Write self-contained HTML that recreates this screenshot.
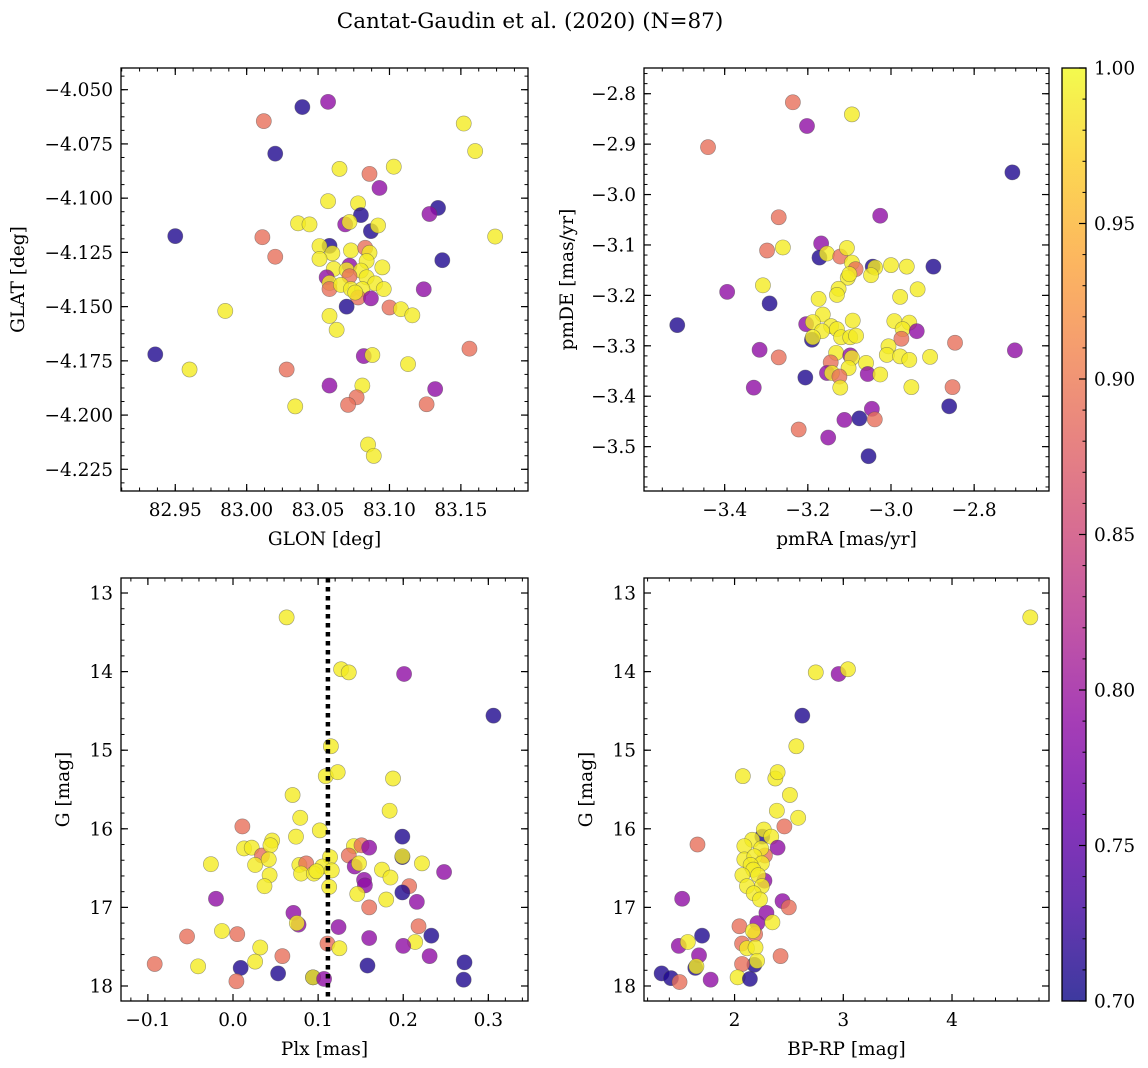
<!DOCTYPE html>
<html><head><meta charset="utf-8">
<style>
html,body{margin:0;padding:0;background:#fff;}
svg{display:block;font-family:"DejaVu Serif","Liberation Serif",serif;}
</style></head>
<body>
<svg id="fig" width="1148" height="1068" viewBox="0 0 1148 1068" xmlns="http://www.w3.org/2000/svg">
<defs>
<linearGradient id="plasmaGrad" x1="0" y1="1" x2="0" y2="0">
<stop offset="0" stop-color="#0d0887"/><stop offset="0.1" stop-color="#41049d"/><stop offset="0.2" stop-color="#6a00a8"/>
<stop offset="0.3" stop-color="#8f0da4"/><stop offset="0.4" stop-color="#b12a90"/><stop offset="0.5" stop-color="#cc4778"/>
<stop offset="0.6" stop-color="#e16462"/><stop offset="0.7" stop-color="#f2844b"/><stop offset="0.8" stop-color="#fca636"/>
<stop offset="0.9" stop-color="#fcce25"/><stop offset="1" stop-color="#f0f921"/>
</linearGradient>
</defs>
<text x="530" y="28" text-anchor="middle" font-size="21.5">Cantat-Gaudin et al. (2020) (N=87)</text>
</svg>
<script>
// ---- Panel 1: GLON / GLAT ----
const p1Glon=[83.039,83.057,83.012,83.020,82.950,83.011,83.020,82.936,82.960,82.985,83.028,83.034,83.152,83.160,83.174,83.137,83.134,83.128,83.124,83.156,83.132,83.126,83.065,83.086,83.103,83.093,83.057,83.078,83.080,83.069,83.072,83.036,83.044,83.087,83.092,83.058,83.051,83.060,83.051,83.073,83.083,83.086,83.084,83.095,83.072,83.061,83.070,83.080,83.056,83.072,83.058,83.058,83.066,83.073,83.084,83.090,83.096,83.081,83.078,83.076,83.087,83.070,83.100,83.108,83.116,83.058,83.063,83.082,83.088,83.113,83.058,83.081,83.077,83.071,83.085,83.089];
const p1Glat=[-4.058,-4.0556,-4.0645,-4.0795,-4.1175,-4.118,-4.127,-4.172,-4.179,-4.152,-4.179,-4.196,-4.0656,-4.0783,-4.1177,-4.1286,-4.1045,-4.1073,-4.142,-4.1694,-4.188,-4.195,-4.0865,-4.0888,-4.0855,-4.0953,-4.1014,-4.1024,-4.1078,-4.1121,-4.111,-4.1116,-4.1121,-4.1152,-4.1126,-4.122,-4.1221,-4.1254,-4.128,-4.1241,-4.1229,-4.1252,-4.129,-4.1319,-4.1311,-4.1326,-4.1331,-4.1334,-4.1365,-4.136,-4.1391,-4.1419,-4.14,-4.1419,-4.1365,-4.1393,-4.1419,-4.1419,-4.1458,-4.1435,-4.1462,-4.15,-4.1504,-4.1512,-4.154,-4.1543,-4.1607,-4.1728,-4.1723,-4.1765,-4.1864,-4.1864,-4.1918,-4.1953,-4.2136,-4.2188];
const p1Prob=[0.71,0.79,0.89,0.71,0.71,0.89,0.89,0.71,0.99,0.99, 0.89,0.99,0.99,0.99,0.99,0.71,0.71,0.79,0.79,0.89, 0.79,0.89,0.99,0.89,0.99,0.79,0.99,0.99,0.71,0.79, 0.99,0.99,0.99,0.71,0.99,0.71,0.99,0.99,0.99,0.99, 0.89,0.99,0.99,0.99,0.79,0.99,0.99,0.99,0.79,0.89, 0.99,0.89,0.99,0.99,0.99,0.99,0.99,0.99,0.89,0.99, 0.79,0.71,0.89,0.99,0.99,0.99,0.99,0.79,0.99,0.99, 0.79,0.99,0.89,0.89,0.99,0.99];
// ---- Panel 2: pmRA / pmDE ----
const p2Pmra=[-3.236,-3.202,-3.094,-3.440,-2.708,-3.514,-3.270,-3.026,-3.260,-3.298, -3.168,-3.172,-3.154,-3.122,-3.106,-3.094,-3.085,-3.044,-3.038,-3.048, -3.000,-2.962,-2.898,-3.104,-3.100,-3.126,-3.130,-2.936,-2.978,-3.308, -3.394,-3.292,-3.174,-3.164,-3.092,-2.992,-2.956,-2.972,-2.938,-3.204, -3.188,-3.144,-3.166,-3.130,-3.120,-3.098,-3.084,-3.190,-3.188,-2.975, -2.846,-2.702,-3.006,-3.010,-2.978,-2.956,-2.906,-3.316,-3.270,-3.132, -3.098,-3.094,-3.145,-3.102,-3.060,-3.154,-3.142,-3.124,-3.056,-3.026, -3.122,-3.206,-3.330,-2.951,-2.852,-2.860,-3.046,-3.076,-3.039,-3.112, -3.222,-3.151,-3.054];
const p2Pmde=[-2.817,-2.864,-2.841,-2.906,-2.956,-3.259,-3.045,-3.042,-3.105,-3.111, -3.097,-3.125,-3.117,-3.123,-3.106,-3.135,-3.148,-3.143,-3.145,-3.160, -3.140,-3.143,-3.143,-3.165,-3.158,-3.187,-3.199,-3.188,-3.203,-3.180, -3.193,-3.216,-3.207,-3.238,-3.250,-3.251,-3.254,-3.267,-3.271,-3.257, -3.253,-3.261,-3.271,-3.267,-3.283,-3.283,-3.280,-3.288,-3.283,-3.286, -3.294,-3.309,-3.301,-3.318,-3.321,-3.328,-3.322,-3.308,-3.323,-3.314, -3.319,-3.324,-3.333,-3.344,-3.334,-3.354,-3.354,-3.361,-3.356,-3.357, -3.383,-3.363,-3.383,-3.382,-3.382,-3.420,-3.425,-3.444,-3.446,-3.447, -3.466,-3.482,-3.519];
const p2Prob=[0.89,0.79,0.99,0.89,0.71,0.71,0.89,0.79,0.99,0.89, 0.79,0.71,0.99,0.89,0.99,0.99,0.89,0.71,0.99,0.99, 0.99,0.99,0.71,0.99,0.99,0.99,0.99,0.99,0.99,0.99, 0.79,0.71,0.99,0.99,0.99,0.99,0.99,0.99,0.79,0.79, 0.99,0.99,0.99,0.99,0.99,0.99,0.99,0.71,0.99,0.89, 0.89,0.79,0.99,0.99,0.99,0.99,0.99,0.79,0.89,0.99, 0.79,0.99,0.89,0.99,0.99,0.79,0.99,0.89,0.79,0.99, 0.99,0.71,0.79,0.99,0.89,0.71,0.79,0.71,0.89,0.79, 0.89,0.79,0.71];
// ---- Panel 3: Plx / G ----
const p3Plx=[0.063,0.127,0.136,0.201,0.306,0.115,0.109,0.123,0.188,0.070, 0.184,0.079,0.011,0.102,0.074,0.199,0.013,0.022,0.034,0.046, 0.044,0.142,0.151,0.160,0.136,0.199,0.199,0.222,0.114,-0.026, 0.026,0.042,0.078,0.086,0.143,0.148,0.248,0.105,0.116,0.080, 0.095,0.098,0.175,0.185,0.043,0.037,0.113,0.154,0.155,0.207, 0.199,0.146,-0.020,0.216,0.180,0.160,0.071,0.077,0.075,0.124, 0.218,-0.013,0.005,-0.054,0.233,0.160,0.111,0.214,0.032,0.125, 0.200,0.231,0.058,0.026,0.272,-0.092,-0.041,0.009,0.158,0.053, 0.094,0.094,0.107,0.004,0.271];
const p3G=[13.31,13.97,14.01,14.03,14.56,14.95,15.33,15.28,15.36,15.57, 15.77,15.86,15.97,16.02,16.10,16.10,16.25,16.24,16.34,16.15, 16.21,16.22,16.21,16.24,16.34,16.36,16.35,16.44,16.36,16.45, 16.46,16.39,16.46,16.44,16.48,16.44,16.55,16.48,16.53,16.57, 16.57,16.54,16.52,16.62,16.59,16.73,16.74,16.65,16.72,16.73, 16.81,16.83,16.89,16.93,16.90,17.00,17.07,17.22,17.20,17.25, 17.24,17.30,17.34,17.37,17.36,17.39,17.46,17.44,17.51,17.52, 17.49,17.62,17.62,17.69,17.70,17.72,17.75,17.77,17.74,17.84, 17.89,17.89,17.91,17.94,17.92];
const p3Prob=[0.99,0.99,0.99,0.79,0.71,0.99,0.99,0.99,0.99,0.99, 0.99,0.99,0.89,0.99,0.99,0.71,0.99,0.99,0.89,0.99, 0.99,0.99,0.89,0.79,0.89,0.71,0.99,0.99,0.99,0.99, 0.99,0.99,0.99,0.89,0.79,0.99,0.79,0.99,0.99,0.99, 0.99,0.99,0.99,0.99,0.99,0.99,0.99,0.79,0.79,0.89, 0.71,0.99,0.79,0.79,0.99,0.89,0.79,0.79,0.99,0.79, 0.89,0.99,0.89,0.89,0.71,0.79,0.89,0.99,0.99,0.99, 0.79,0.79,0.89,0.99,0.71,0.89,0.99,0.71,0.71,0.71, 0.71,0.99,0.79,0.89,0.71];
const p3RefPlx=[0.1115];
// ---- Panel 4: BP-RP / G ----
const p4Bprp=[4.72,2.747,2.957,3.043,2.623,2.568,2.076,2.375,2.396,2.509, 2.389,2.585,2.458,2.255,2.269,2.337,1.659,2.396,2.279,2.275, 2.162,2.090,2.244,2.090,2.182,2.251,2.148,2.172,2.072,2.217, 2.114,2.251,2.176,2.234,1.518,2.441,2.499,2.293,2.210,2.045, 2.189,2.069,2.348,2.169,2.114,2.193,1.701,1.487,1.570,1.673, 2.423,2.182,2.207,2.069,1.639,1.649,1.329,1.415,1.494,1.780, 2.028,2.141];
const p4G=[13.31,14.01,14.03,13.97,14.56,14.95,15.33,15.36,15.28,15.57, 15.77,15.86,15.97,16.10,16.01,16.10,16.20,16.24,16.34,16.66, 16.14,16.22,16.25,16.39,16.35,16.44,16.46,16.52,16.59,16.59, 16.73,16.73,16.82,16.90,16.89,16.92,17.00,17.07,17.20,17.24, 17.34,17.46,17.19,17.30,17.52,17.51,17.36,17.49,17.44,17.61, 17.62,17.73,17.68,17.72,17.77,17.75,17.84,17.90,17.95,17.92, 17.89,17.91];
const p4Prob=[0.99,0.99,0.79,0.99,0.71,0.99,0.99,0.99,0.99,0.99, 0.99,0.99,0.89,0.71,0.99,0.99,0.89,0.79,0.89,0.79, 0.99,0.99,0.99,0.99,0.99,0.99,0.99,0.99,0.99,0.99, 0.99,0.99,0.99,0.99,0.79,0.79,0.89,0.79,0.79,0.89, 0.89,0.89,0.99,0.99,0.99,0.99,0.71,0.79,0.99,0.79, 0.89,0.71,0.99,0.89,0.71,0.99,0.71,0.71,0.89,0.79, 0.99,0.71];
// ---- tick labels ----
const p1XTicks=[82.95,83.00,83.05,83.10,83.15];
const p1YTicks=[-4.050,-4.075,-4.100,-4.125,-4.150,-4.175,-4.200,-4.225];
const p2XTicks=[-3.4,-3.2,-3.0,-2.8];
const p2YTicks=[-2.8,-2.9,-3.0,-3.1,-3.2,-3.3,-3.4,-3.5];
const p3XTicks=[-0.1,0.0,0.1,0.2,0.3];
const gTicks=[13,14,15,16,17,18];
const p4XTicks=[2,3,4];
const cbTicks=[0.70,0.75,0.80,0.85,0.90,0.95,1.00];

const NS="http://www.w3.org/2000/svg";
const svg=document.getElementById('fig');
const FS=18.5;
function mk(tag,attrs,parent){const e=document.createElementNS(NS,tag);for(const k in attrs)e.setAttribute(k,attrs[k]);(parent||svg).appendChild(e);return e;}
const plasma=["#0d0887","#41049d","#6a00a8","#8f0da4","#b12a90","#cc4778","#e16462","#f2844b","#fca636","#fcce25","#f0f921"];
function hex(h){return [parseInt(h.substr(1,2),16),parseInt(h.substr(3,2),16),parseInt(h.substr(5,2),16)];}
function cmap(p){let t=(p-0.7)/0.3;t=Math.max(0,Math.min(1,t));const f=t*10,i=Math.min(9,Math.floor(f)),r=f-i;const a=hex(plasma[i]),b=hex(plasma[i+1]);return 'rgb('+a.map((v,k)=>Math.round(v+(b[k]-v)*r)).join(',')+')';}
function fmt(v,d){return (v<0?'\u2212':'')+Math.abs(v).toFixed(d);}

function panel(cfg){
  const {name,L,R,T,B,x0,x1,y0,y1,xTicks,yTicks,xMinor,yMinor,xd,yd,xLabel,yLabel,yLabelX}=cfg;
  const g=mk('g',{});
  
  
  const sx=v=>L+(v-x0)/(x1-x0)*(R-L);
  const sy=v=>T+(v-y0)/(y1-y0)*(B-T);
  const xs=Math.min(x0,x1),xe=Math.max(x0,x1);
  for(let v=Math.ceil(xs/xMinor-1e-6)*xMinor;v<=xe+1e-9;v+=xMinor){const X=sx(v);mk('line',{x1:X,x2:X,y1:B,y2:B-3.5,stroke:'#000','stroke-width':1},g);mk('line',{x1:X,x2:X,y1:T,y2:T+3.5,stroke:'#000','stroke-width':1},g);}
  const ys=Math.min(y0,y1),ye=Math.max(y0,y1);
  for(let v=Math.ceil(ys/yMinor-1e-6)*yMinor;v<=ye+1e-9;v+=yMinor){const Y=sy(v);mk('line',{y1:Y,y2:Y,x1:L,x2:L+3.5,stroke:'#000','stroke-width':1},g);mk('line',{y1:Y,y2:Y,x1:R,x2:R-3.5,stroke:'#000','stroke-width':1},g);}
  xTicks.forEach(v=>{const X=sx(v);mk('line',{x1:X,x2:X,y1:B,y2:B-7,stroke:'#000','stroke-width':1.2},g);mk('line',{x1:X,x2:X,y1:T,y2:T+7,stroke:'#000','stroke-width':1.2},g);
    const t=mk('text',{x:X,y:B+25,'text-anchor':'middle','font-size':FS},g);t.textContent=fmt(v,xd);
    
    });
  yTicks.forEach(v=>{const Y=sy(v);mk('line',{y1:Y,y2:Y,x1:L,x2:L+7,stroke:'#000','stroke-width':1.2},g);mk('line',{y1:Y,y2:Y,x1:R,x2:R-7,stroke:'#000','stroke-width':1.2},g);
    const t=mk('text',{x:L-8,y:Y+6.5,'text-anchor':'end','font-size':FS},g);t.textContent=fmt(v,yd);
    
    });
  const xl=mk('text',{x:(L+R)/2,y:B+54,'text-anchor':'middle','font-size':FS},g);xl.textContent=xLabel;
  
  
  const yl=mk('text',{x:0,y:0,'text-anchor':'middle','font-size':FS,transform:'translate('+yLabelX+','+((T+B)/2)+') rotate(-90)'},g);yl.textContent=yLabel;
  
  
  return {g,sx,sy,L,R,T,B};
}
function points(P,xs,ys,ps,name){
  const cg=mk('g',{},P.g);
  
  
  xs.forEach((x,i)=>{const c=mk('circle',{cx:P.sx(x),cy:P.sy(ys[i]),r:7.6,fill:cmap(ps[i]),'fill-opacity':0.8,stroke:'rgba(80,80,80,0.55)','stroke-width':0.6},cg);
    
    });
}
function frame(P){mk('rect',{x:P.L,y:P.T,width:P.R-P.L,height:P.B-P.T,fill:'none',stroke:'#000','stroke-width':1.3},P.g);}

const P1=panel({name:'glon-glat',L:121,R:528,T:68,B:491,x0:82.912,x1:83.197,y0:-4.040,y1:-4.235,xTicks:p1XTicks,yTicks:p1YTicks,xMinor:0.0125,yMinor:0.00625,xd:2,yd:3,xLabel:'GLON [deg]',yLabel:'GLAT [deg]',yLabelX:24});
points(P1,p1Glon,p1Glat,p1Prob,'glon-glat');frame(P1);
const P2=panel({name:'pm',L:644,R:1049,T:68,B:491,x0:-3.594,x1:-2.620,y0:-2.749,y1:-3.588,xTicks:p2XTicks,yTicks:p2YTicks,xMinor:0.05,yMinor:0.02,xd:1,yd:1,xLabel:'pmRA [mas/yr]',yLabel:'pmDE [mas/yr]',yLabelX:573});
points(P2,p2Pmra,p2Pmde,p2Prob,'pm');frame(P2);
const P3=panel({name:'plx-g',L:121,R:528,T:578,B:1001,x0:-0.1316,x1:0.3466,y0:12.809,y1:18.191,xTicks:p3XTicks,yTicks:gTicks,xMinor:0.02,yMinor:0.2,xd:1,yd:0,xLabel:'Plx [mas]',yLabel:'G [mag]',yLabelX:69});
points(P3,p3Plx,p3G,p3Prob,'plx-g');
p3RefPlx.forEach(v=>{const X=P3.sx(v);const l=mk('line',{x1:X,x2:X,y1:P3.T,y2:P3.B,stroke:'#000','stroke-width':4.5,'stroke-dasharray':'4.5,4.5'},P3.g);
  
  });
frame(P3);
const P4=panel({name:'cmd',L:644,R:1049,T:578,B:1001,x0:1.167,x1:4.892,y0:12.809,y1:18.191,xTicks:p4XTicks,yTicks:gTicks,xMinor:0.2,yMinor:0.2,xd:0,yd:0,xLabel:'BP-RP [mag]',yLabel:'G [mag]',yLabelX:592});
points(P4,p4Bprp,p4G,p4Prob,'cmd');frame(P4);

// colorbar
const cb=mk('g',{});


const CL=1062,CR=1086,CT=68,CB=1001;
mk('rect',{x:CL,y:CT,width:CR-CL,height:CB-CT,fill:'url(#plasmaGrad)','fill-opacity':0.8},cb);
const cy=v=>CB-(v-0.7)/0.3*(CB-CT);
for(let k=70;k<=100;k++){const Y=cy(k/100);const maj=k%5===0;mk('line',{x1:CR,x2:CR-(maj?7:3.5),y1:Y,y2:Y,stroke:'#000','stroke-width':maj?1.2:1},cb);}
cbTicks.forEach(v=>{const t=mk('text',{x:CR+8,y:cy(v)+6.5,'font-size':FS},cb);t.textContent=v.toFixed(2);
  
  });
mk('rect',{x:CL,y:CT,width:CR-CL,height:CB-CT,fill:'none',stroke:'#000','stroke-width':1.3},cb);
</script>
</body></html>
